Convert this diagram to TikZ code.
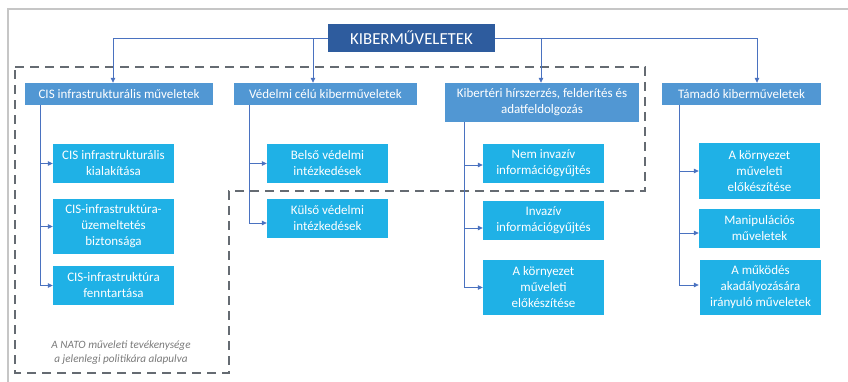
\documentclass[tikz,border=0pt]{standalone}
\usepackage{fontspec}
\setmainfont{Carlito}
\usetikzlibrary{arrows.meta}
\definecolor{titleblue}{HTML}{2E5C9E}
\definecolor{mainblue}{HTML}{5197D3}
\definecolor{subcyan}{HTML}{1FB1E6}
\definecolor{linkblue}{HTML}{4A72C0}
\definecolor{dashgray}{HTML}{656B72}
\definecolor{framegray}{HTML}{C6C6C6}
\definecolor{notegray}{HTML}{7A7A7A}
\tikzset{
  titlebox/.style={fill=titleblue, text=white, minimum width=167pt, minimum height=28pt,
    inner sep=0pt, font=\fontsize{16.8}{18}\selectfont},
  mainbox/.style={fill=mainblue, text=white, minimum height=22pt, inner sep=0pt,
    align=center, font=\fontsize{13}{16}\selectfont},
  subbox/.style={fill=subcyan, text=white, minimum width=121pt, inner sep=0pt,
    align=center, font=\fontsize{13}{16}\selectfont},
  link/.style={draw=linkblue, line width=0.8pt, -{Triangle[length=5pt,width=4.5pt]}},
  scopeline/.style={draw=dashgray, line width=2pt, dash pattern=on 9pt off 6pt},
}
\begin{document}
\begin{tikzpicture}[x=1pt,y=-1pt]
\useasboundingbox (0,0) rectangle (848,382);

% light frame along the top and left edges
\draw[framegray, line width=1.2pt] (848,9) -- (8,9) -- (8,382);

% dashed outline of the NATO scope
\draw[scopeline] (15,67) -- (645,67) -- (645,191) -- (229,191) -- (229,373) -- (15,373) -- cycle;
\node[text=notegray, align=center, font=\fontsize{11.2}{14}\selectfont\itshape] (note) at (121,353)
  {A NATO műveleti tevékenysége\\a jelenlegi politikára alapulva};

% top node
\node[titlebox] (top) at (411.5,38) {KIBERMŰVELETEK};

% first level
\node[mainbox, minimum width=188pt] (cis) at (119,94) {CIS infrastrukturális műveletek};
\node[mainbox, minimum width=183pt] (def) at (325.5,94) {Védelmi célú kiberműveletek};
\node[mainbox, minimum width=194pt, minimum height=39pt] (intel) at (542,102.5)
  {Kibertéri hírszerzés, felderítés és\\adatfeldolgozás};
\node[mainbox, minimum width=159pt] (att) at (741.5,94) {Támadó kiberműveletek};

% second level
\node[subbox, minimum height=39pt] (cisA) at (113.5,163.5) {CIS infrastrukturális\\kialakítása};
\node[subbox, minimum height=55pt] (cisB) at (113.5,226.5) {CIS-infrastruktúra-\\üzemeltetés\\biztonsága};
\node[subbox, minimum height=39pt] (cisC) at (113.5,285.5) {CIS-infrastruktúra\\fenntartása};

\node[subbox, minimum height=39pt] (defA) at (327.5,163.5) {Belső védelmi\\intézkedések};
\node[subbox, minimum height=39pt] (defB) at (327.5,218.5) {Külső védelmi\\intézkedések};

\node[subbox, minimum height=39pt] (intA) at (543.5,163.5) {Nem invazív\\információgyűjtés};
\node[subbox, minimum height=39pt] (intB) at (543.5,220.5) {Invazív\\információgyűjtés};
\node[subbox, minimum height=55pt] (intC) at (543.5,287.5) {A környezet\\műveleti\\előkészítése};

\node[subbox, minimum height=56pt] (attA) at (759.5,171) {A környezet\\műveleti\\előkészítése};
\node[subbox, minimum height=39pt] (attB) at (759.5,228.5) {Manipulációs\\műveletek};
\node[subbox, minimum height=55pt] (attC) at (760.5,287.5) {A működés\\akadályozására\\irányuló műveletek};

% connectors from the top node
\draw[link] (top.west) -| ([xshift=-6pt]cis.north);
\draw[link] (top.west) -| ([xshift=-12.5pt]def.north);
\draw[link] (top.east) -| ([xshift=-1pt]intel.north);
\draw[link] (top.east) -| ([xshift=15.5pt]att.north);

% connectors inside each column
\draw[link] ([xshift=16pt]cis.south west) |- (cisA.west);
\draw[link] ([xshift=16pt]cis.south west) |- (cisB.west);
\draw[link] ([xshift=16pt]cis.south west) |- (cisC.west);

\draw[link] ([xshift=16pt]def.south west) |- (defA.west);
\draw[link] ([xshift=16pt]def.south west) |- ([yshift=-4.5pt]defB.west);

\draw[link] ([xshift=20pt]intel.south west) |- ([yshift=-1.5pt]intA.west);
\draw[link] ([xshift=20pt]intel.south west) |- ([yshift=-7.5pt]intB.west);
\draw[link] ([xshift=20pt]intel.south west) |- (intC.west);

\draw[link] ([xshift=18pt]att.south west) |- (attA.west);
\draw[link] ([xshift=18pt]att.south west) |- ([yshift=-4.5pt]attB.west);
\draw[link] ([xshift=18pt]att.south west) |- ([yshift=2.5pt,xshift=-1pt]attC.west);
\end{tikzpicture}
\end{document}
